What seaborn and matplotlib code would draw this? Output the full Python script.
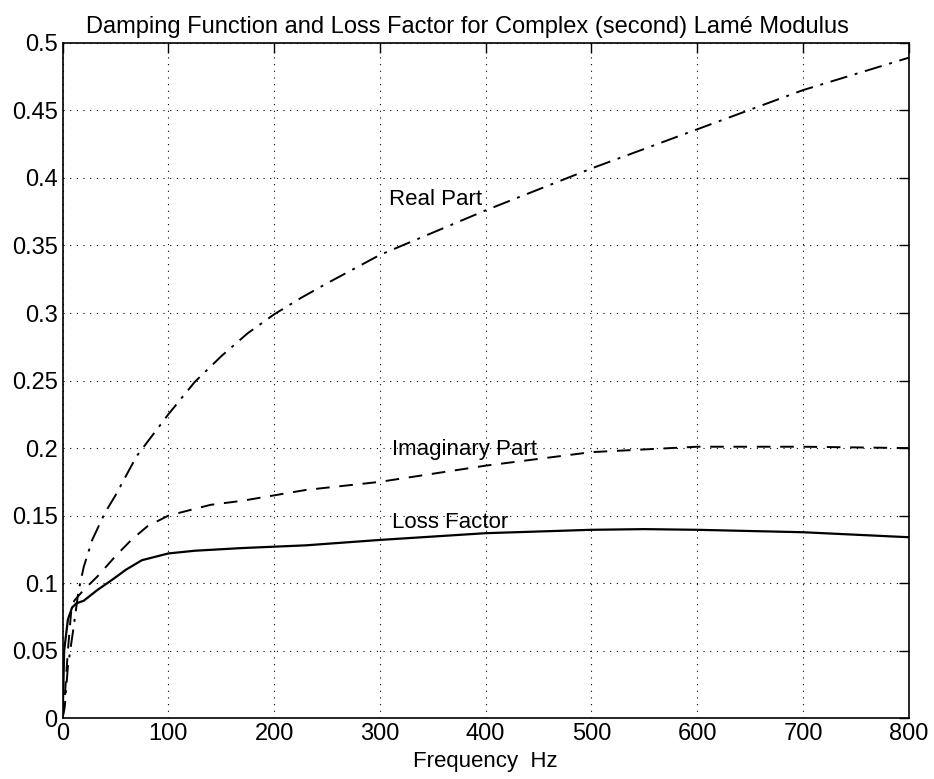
import pandas as pd
import matplotlib
matplotlib.use("Agg")
import matplotlib.pyplot as plt
import seaborn as sns

# values
real_freq = [0, 2, 5, 10, 15, 20, 28, 40, 50, 70, 100, 125, 150, 175, 200, 225, 250, 300, 400, 500, 600, 700, 800]
real_part = [0, 0.008, 0.038, 0.065, 0.094, 0.112, 0.132, 0.152, 0.165, 0.194, 0.225, 0.249, 0.268,
             0.285, 0.299, 0.311, 0.322, 0.343, 0.376, 0.407, 0.436, 0.465, 0.489]

imag_freq = [0, 2, 5, 8, 11, 20, 33, 50, 65, 80, 100, 140, 170, 230, 300, 400, 500, 600, 700, 800]
imag_part = [0, 0.015, 0.05, 0.078, 0.087, 0.095, 0.105, 0.12, 0.132, 0.142, 0.150, 0.158, 0.161,
             0.169, 0.175, 0.187, 0.197, 0.201, 0.201, 0.200]

loss_freq = [0, 1.5, 5, 9, 13, 20, 33, 46, 60, 75, 100, 125, 170, 230, 300, 400, 500, 550, 600, 700, 800]
loss_factor = [0, 0.05, 0.073, 0.082, 0.085, 0.087, 0.095, 0.102, 0.11, 0.117, 0.122, 0.124, 0.126,
               0.128, 0.132, 0.137, 0.1395, 0.140, 0.1395, 0.1377, 0.134]

x_ticks = [0, 100, 200, 300, 400, 500, 600, 700, 800]
y_ticks = [0, 0.05, 0.1, 0.15, 0.2, 0.25, 0.3, 0.35, 0.4, 0.45, 0.5]
y_tick_labels = ["0", "0.05", "0.1", "0.15", "0.2", "0.25", "0.3", "0.35", "0.4", "0.45", "0.5"]

sns.set_style("white")
plt.rcParams['font.family'] = ['Liberation Sans', 'DejaVu Sans']
plt.rcParams['text.color'] = 'black'
plt.rcParams['axes.labelcolor'] = 'black'

fig = plt.figure(figsize=(9.34, 7.79), dpi=100)
ax = fig.add_axes([0.067, 0.078, 0.906, 0.867])

real_df = pd.DataFrame({'freq': real_freq, 'value': real_part})
imag_df = pd.DataFrame({'freq': imag_freq, 'value': imag_part})
loss_df = pd.DataFrame({'freq': loss_freq, 'value': loss_factor})

sns.lineplot(data=real_df, x='freq', y='value', ax=ax, color='black', linewidth=1.4,
             linestyle=(0, (9, 4, 1.5, 4)))
sns.lineplot(data=imag_df, x='freq', y='value', ax=ax, color='black', linewidth=1.4,
             linestyle=(0, (7, 5)))
sns.lineplot(data=loss_df, x='freq', y='value', ax=ax, color='black', linewidth=1.6)

ax.text(309, 0.384, 'Real Part', fontsize=16, va='center', ha='left', color='black')
ax.text(311, 0.199, 'Imaginary Part', fontsize=16, va='center', ha='left', color='black')
ax.text(311, 0.145, 'Loss Factor', fontsize=16, va='center', ha='left', color='black')

ax.set_xlim(0, 800)
ax.set_ylim(0, 0.5)
ax.set_xticks(x_ticks)
ax.set_yticks(y_ticks)
ax.set_yticklabels(y_tick_labels)
ax.tick_params(direction='in', top=True, right=True, length=7, width=1, labelsize=17,
               colors='black')
ax.grid(True, linestyle=(0, (1, 5)), color='black', linewidth=0.8)
for spine in ax.spines.values():
    spine.set_color('black')
    spine.set_linewidth(1.2)

ax.set_xlabel('Frequency  Hz', fontsize=16, labelpad=4, color='black')
ax.set_ylabel('')
ax.set_title('Damping Function and Loss Factor for Complex (second) Lamé Modulus', fontsize=17,
             pad=7, x=0.478, color='black')

fig.savefig('out.png', dpi=100)
